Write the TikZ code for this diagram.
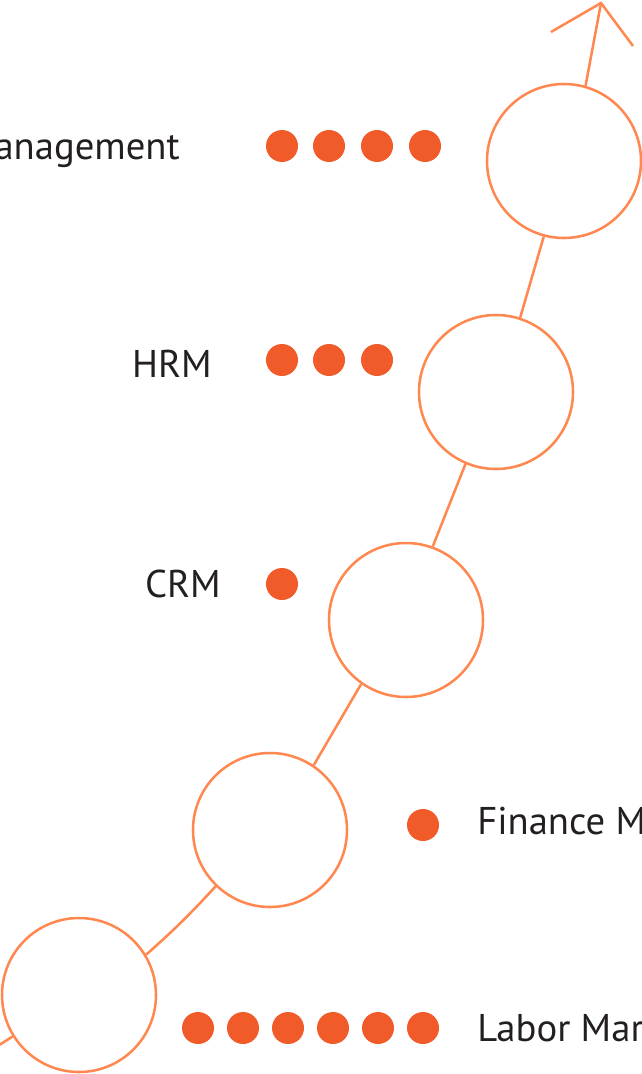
\documentclass[tikz,border=0pt]{standalone}
\usepackage{fontspec}
\setmainfont{PT Sans}
\definecolor{ring}{RGB}{255,136,80}
\definecolor{dotc}{RGB}{241,90,41}
\definecolor{txt}{RGB}{35,31,32}
\begin{document}
\begin{tikzpicture}[x=0.75pt,y=-0.75pt,
  ring/.style={circle,draw=ring,line width=1.9pt,minimum size=115.5pt,inner sep=0pt,fill=white},
  link/.style={draw=ring,line width=1.9pt},
  dotn/.style={circle,fill=dotc,minimum size=24pt,inner sep=0pt},
  lab/.style={text=txt,font=\fontsize{29}{32}\selectfont,inner sep=0pt}]
\path[use as bounding box] (0,0) rectangle (642,1074);
\clip (0,0) rectangle (642,1074);
\node[ring] (c1) at (564,161) {};
\node[ring] (c2) at (496,392) {};
\node[ring] (c3) at (406,620) {};
\node[ring] (c4) at (270,830) {};
\node[ring] (c5) at (79,995) {};
\coordinate (tail) at (-40,1070);
\coordinate (tip) at (601,3);
\coordinate (armL) at (551,32);
\coordinate (armR) at (633,46);
\draw[link] (c5.212.5) -- (tail);
\draw[link] (c5.31) to[bend right=3] (c4.226.6);
\draw[link] (c4.56) -- (c3.235.5);
\draw[link] (c3.70.4) -- (c2.247);
\draw[link] (c2.72.5) -- (c1.255);
\draw[link,line join=round] (c1.74.4) -- (tip);
\draw[link] (armL) -- (tip) -- (armR);
% dots
\foreach \x [count=\i] in {282,329,377,425} \node[dotn] (da\i) at (\x,146) {};
\foreach \x [count=\i] in {282,329,377} \node[dotn] (db\i) at (\x,360) {};
\node[dotn] (dc1) at (282,584) {};
\node[dotn] (dd1) at (423,825) {};
\foreach \x [count=\i] in {198,243,288,333,378,423} \node[dotn] (de\i) at (\x,1028) {};
% labels
\node[lab,anchor=east] (l1) at (180,150) {Management};
\node[lab,anchor=east] (l2) at (212,364) {HRM};
\node[lab,anchor=east] (l3) at (221,584) {CRM};
\node[lab,anchor=west] (l4) at (477,825) {Finance Management};
\node[lab,anchor=west] (l5) at (477,1028) {Labor Market};
\end{tikzpicture}
\end{document}
